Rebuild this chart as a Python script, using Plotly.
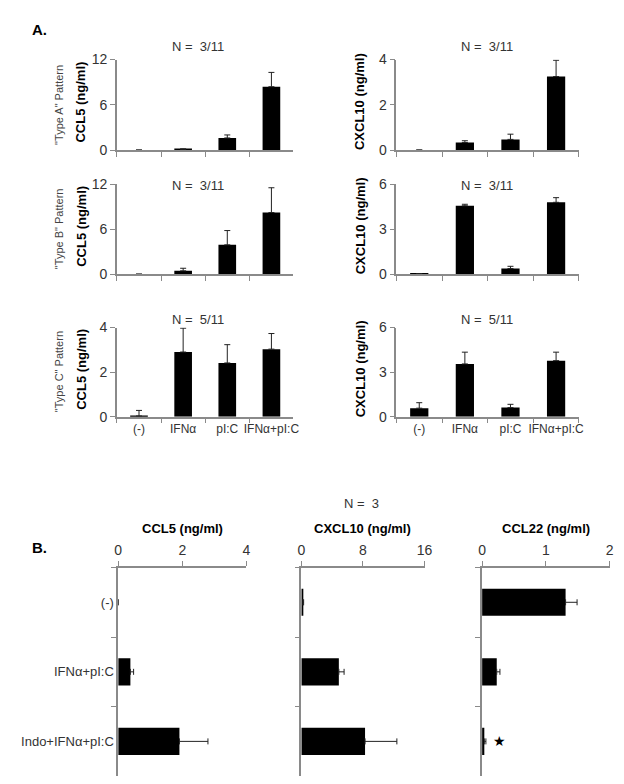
import plotly.graph_objects as go

W, H = 624, 784

# ---------------- data ----------------
categories_A = ["(-)", "IFNα", "pI:C", "IFNα+pI:C"]
typeA_ccl5 = [0, 0.1, 1.6, 8.4]
typeA_ccl5_err = [0, 0.05, 0.4, 1.9]
typeA_cxcl10 = [0, 0.33, 0.47, 3.25]
typeA_cxcl10_err = [0, 0.08, 0.23, 0.72]
typeB_ccl5 = [0, 0.44, 3.9, 8.2]
typeB_ccl5_err = [0, 0.34, 1.9, 3.3]
typeB_cxcl10 = [0.02, 4.55, 0.37, 4.78]
typeB_cxcl10_err = [0, 0.1, 0.15, 0.31]
typeC_ccl5 = [0.03, 2.9, 2.41, 3.03]
typeC_ccl5_err = [0.25, 1.07, 0.82, 0.7]
typeC_cxcl10 = [0.57, 3.55, 0.61, 3.77]
typeC_cxcl10_err = [0.37, 0.79, 0.22, 0.57]

row_titles_A = ['"Type A" Pattern', '"Type B" Pattern', '"Type C" Pattern']
n_labels_A = ["N =  3/11", "N =  3/11", "N =  5/11"]
ccl5_ticks_A = [[0, 6, 12], [0, 6, 12], [0, 2, 4]]
cxcl10_ticks_A = [[0, 2, 4], [0, 3, 6], [0, 3, 6]]

categories_B = ["(-)", "IFNα+pI:C", "Indo+IFNα+pI:C"]
ccl5_B = [0, 0.38, 1.91]
ccl5_B_err = [0, 0.1, 0.89]
cxcl10_B = [0.2, 4.87, 8.27]
cxcl10_B_err = [0.1, 0.68, 4.13]
ccl22_B = [1.31, 0.23, 0.035]
ccl22_B_err = [0.18, 0.05, 0.025]
titles_B = ["CCL5 (ng/ml)", "CXCL10 (ng/ml)", "CCL22 (ng/ml)"]
ticks_B = [[0, 2, 4], [0, 8, 16], [0, 1, 2]]

# ---------------- style ----------------
FONT = "Liberation Sans, Arial, sans-serif"
AXC = "#8a8a8a"
TXT = "#333333"


def px_x(p):
    return p / W


def px_y(p):
    return 1 - p / H


def err_arr(e):
    # no error bar drawn where the error is zero
    return [v if v > 0 else None for v in e]


fig = go.Figure()
layout = dict(
    width=W, height=H, margin=dict(l=0, r=0, t=0, b=0),
    paper_bgcolor="white", plot_bgcolor="white", showlegend=False,
    font=dict(family=FONT, color=TXT, size=13),
)
annotations = []

# Panel A geometry (pixels)
colsA = [(107, 287), (392, 578)]
rowsA = [(44.5, 136.8), (171.5, 263.5), (318, 409)]
row_data = [
    (typeA_ccl5, typeA_ccl5_err, typeA_cxcl10, typeA_cxcl10_err),
    (typeB_ccl5, typeB_ccl5_err, typeB_cxcl10, typeB_cxcl10_err),
    (typeC_ccl5, typeC_ccl5_err, typeC_cxcl10, typeC_cxcl10_err),
]
ytitles_x = [70, 355]
ntitle_x = [190, 484]
ntitle_y = [31, 173, 310]

ax = 0
for r, (top, bot) in enumerate(rowsA):
    vals = row_data[r]
    for c, (x0, x1) in enumerate(colsA):
        ax += 1
        sfx = "" if ax == 1 else str(ax)
        y = vals[0] if c == 0 else vals[2]
        e = vals[1] if c == 0 else vals[3]
        ticks = ccl5_ticks_A[r] if c == 0 else cxcl10_ticks_A[r]
        fig.add_trace(go.Bar(
            x=categories_A, y=y, width=0.4, marker=dict(color="black", line=dict(width=0)),
            error_y=dict(type="data", array=err_arr(e), arrayminus=[0] * len(e), symmetric=False,
                         color="#222", thickness=1, width=3),
            xaxis="x" + sfx, yaxis="y" + sfx,
        ))
        layout["xaxis" + sfx] = dict(
            domain=[px_x(x0), px_x(x1)], anchor="y" + sfx, type="category",
            categoryorder="array", categoryarray=categories_A, range=[-0.5, 3.5],
            showline=True, linecolor=AXC, linewidth=1.5, ticks="outside", tickson="boundaries",
            ticklen=5, tickcolor=AXC, tickwidth=1.2, showgrid=False, zeroline=False,
            showticklabels=(r == 2), tickangle=0, tickfont=dict(size=12, color=TXT),
            fixedrange=True,
        )
        layout["yaxis" + sfx] = dict(
            domain=[px_y(bot), px_y(top)], anchor="x" + sfx, range=[0, ticks[-1]],
            tickvals=ticks, showline=True, linecolor=AXC, linewidth=1.5, ticks="outside",
            ticklen=5, tickcolor=AXC, tickwidth=1.2, showgrid=False, zeroline=False,
            tickfont=dict(size=14, color=TXT), fixedrange=True,
        )
        yc = (top + bot) / 2 - 3
        annotations.append(dict(
            text="<b>" + ("CCL5 (ng/ml)" if c == 0 else "CXCL10 (ng/ml)") + "</b>",
            x=px_x(ytitles_x[c]), y=px_y(yc), xref="paper", yref="paper",
            textangle=-90, showarrow=False, xanchor="center", yanchor="middle",
            font=dict(size=13, color="black"),
        ))
        annotations.append(dict(
            text=n_labels_A[r], x=px_x(ntitle_x[c]), y=px_y(ntitle_y[r]),
            xref="paper", yref="paper", showarrow=False, xanchor="center", yanchor="middle",
            font=dict(size=13, color=TXT),
        ))
    annotations.append(dict(
        text=row_titles_A[r], x=px_x(48), y=px_y((top + bot) / 2),
        xref="paper", yref="paper", textangle=-90, showarrow=False,
        xanchor="center", yanchor="middle", font=dict(size=11, color="#444"),
    ))

# Panel B
colsB = [(108.3, 239), (295, 420.7), (479.3, 609.3)]
topB, botB = 563, 776
dataB = [(ccl5_B, ccl5_B_err), (cxcl10_B, cxcl10_B_err), (ccl22_B, ccl22_B_err)]
for i, (x0, x1) in enumerate(colsB):
    ax += 1
    sfx = str(ax)
    v, e = dataB[i]
    fig.add_trace(go.Bar(
        y=categories_B, x=v, orientation="h", width=0.39,
        marker=dict(color="black", line=dict(width=0)),
        error_x=dict(type="data", array=err_arr(e), arrayminus=[0] * len(e), symmetric=False,
                     color="#222", thickness=1, width=3),
        xaxis="x" + sfx, yaxis="y" + sfx,
    ))
    layout["xaxis" + sfx] = dict(
        domain=[px_x(x0), px_x(x1)], anchor="y" + sfx, side="top",
        range=[0, ticks_B[i][-1]], tickvals=ticks_B[i],
        showline=True, linecolor=AXC, linewidth=1.5, ticks="outside", ticklen=5,
        tickcolor=AXC, tickwidth=1.2, showgrid=False, zeroline=False,
        tickfont=dict(size=14, color=TXT), fixedrange=True,
    )
    layout["yaxis" + sfx] = dict(
        domain=[px_y(botB), px_y(topB)], anchor="x" + sfx, type="category",
        categoryorder="array", categoryarray=categories_B, autorange="reversed",
        showline=True, linecolor=AXC, linewidth=1.5, ticks="outside", tickson="boundaries",
        ticklen=5, tickcolor=AXC, tickwidth=1.2, showgrid=False, zeroline=False,
        showticklabels=(i == 0), tickfont=dict(size=13, color=TXT), fixedrange=True,
    )
    annotations.append(dict(
        text="<b>" + titles_B[i] + "</b>", x=px_x((x0 + x1) / 2), y=px_y(523),
        xref="paper", yref="paper", showarrow=False, xanchor="center", yanchor="middle",
        font=dict(size=13, color="black"),
    ))
    if i == 2:
        annotations.append(dict(
            text="★", x=ccl22_B[2] + ccl22_B_err[2] + 0.22, y=categories_B[2],
            xref="x" + sfx, yref="y" + sfx, showarrow=False, xanchor="center",
            yanchor="middle", font=dict(size=14, color="black"),
        ))

annotations.append(dict(text="N =  3", x=px_x(356), y=px_y(498), xref="paper", yref="paper",
                        showarrow=False, xanchor="center", yanchor="middle",
                        font=dict(size=13, color=TXT)))
annotations.append(dict(text="<b>A.</b>", x=px_x(18), y=px_y(14), xref="paper", yref="paper",
                        showarrow=False, xanchor="left", yanchor="middle",
                        font=dict(size=15, color="black")))
annotations.append(dict(text="<b>B.</b>", x=px_x(18), y=px_y(543), xref="paper", yref="paper",
                        showarrow=False, xanchor="left", yanchor="middle",
                        font=dict(size=15, color="black")))

layout["annotations"] = annotations
layout["bargap"] = 0.6
fig.update_layout(**layout)
fig.write_html("out.html")
